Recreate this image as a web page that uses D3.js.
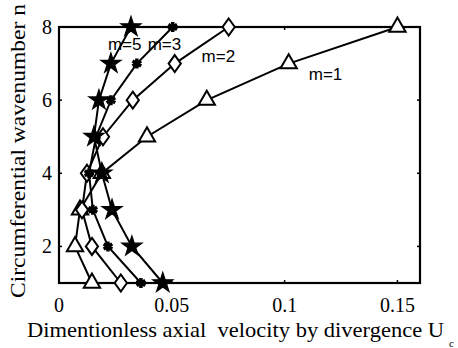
<!DOCTYPE html>
<html>
<head>
<meta charset="utf-8">
<script src="https://cdn.jsdelivr.net/npm/d3@7"></script>
<style>
  body { margin: 0; background: #fff; }
  svg { display: block; }
</style>
</head>
<body>
<div id="chart"></div>
<script>
// wavenumber n on the y axis
const waveNumbers = [1, 2, 3, 4, 5, 6, 7, 8];
// dimensionless axial velocity by divergence, per mode m
const velM1 = [0.0146, 0.0071, 0.0093, 0.0190, 0.0390, 0.0655, 0.1018, 0.1500];
const velM2 = [0.0274, 0.0146, 0.0102, 0.0124, 0.0195, 0.0327, 0.0513, 0.0752];
const velM3 = [0.0363, 0.0217, 0.0150, 0.0133, 0.0164, 0.0230, 0.0345, 0.0504];
const velM5 = [0.0460, 0.0323, 0.0235, 0.0190, 0.0155, 0.0177, 0.0230, 0.0319];
const xTicks = [0, 0.05, 0.1, 0.15];
const yTicks = [2, 4, 6, 8];

const width = 458, height = 348;
const margin = {top: 27, right: 38, bottom: 65, left: 59};
const serif = "'Liberation Serif', 'Times New Roman', serif";

const svg = d3.select("#chart").append("svg")
  .attr("width", width)
  .attr("height", height);

const x = d3.scaleLinear().domain([0, 0.16]).range([margin.left, width - margin.right]);
const y = d3.scaleLinear().domain([1, 8]).range([height - margin.bottom, margin.top]);

// tall diamond like matlab's 'd' marker
const tallDiamond = {
  draw(ctx, size) {
    const h = Math.sqrt(size) * 0.85, w = h * 0.72;
    ctx.moveTo(0, -h); ctx.lineTo(w, 0); ctx.lineTo(0, h); ctx.lineTo(-w, 0); ctx.closePath();
  }
};

const series = [
  {vals: velM1, type: d3.symbolTriangle, size: 115, fill: "#fff", sw: 2},
  {vals: velM2, type: tallDiamond, size: 100, fill: "#fff", sw: 2},
  {vals: velM3, type: d3.symbolAsterisk, size: 70, fill: "none", sw: 3.5},
  {vals: velM5, type: d3.symbolStar, size: 125, fill: "#000", sw: 1.2}
];

const labels = [
  {text: "m=5", n: 7.37, v: 0.0217},
  {text: "m=3", n: 7.37, v: 0.0393},
  {text: "m=2", n: 7.04, v: 0.0632},
  {text: "m=1", n: 6.55, v: 0.1107}
];

// box
svg.append("rect")
  .attr("x", margin.left).attr("y", margin.top)
  .attr("width", x(0.16) - x(0)).attr("height", y(1) - y(8))
  .attr("fill", "none").attr("stroke", "#000").attr("stroke-width", 2.2);

// inward ticks on all four sides
const tl = 3;
svg.append("g").selectAll("line").data(xTicks).join("line")
  .attr("x1", d => x(d)).attr("x2", d => x(d))
  .attr("y1", y(1)).attr("y2", y(1) - tl)
  .attr("stroke", "#000").attr("stroke-width", 1.5);
svg.append("g").selectAll("line").data(xTicks).join("line")
  .attr("x1", d => x(d)).attr("x2", d => x(d))
  .attr("y1", y(8)).attr("y2", y(8) + tl)
  .attr("stroke", "#000").attr("stroke-width", 1.5);
svg.append("g").selectAll("line").data(yTicks).join("line")
  .attr("x1", x(0)).attr("x2", x(0) + tl)
  .attr("y1", d => y(d)).attr("y2", d => y(d))
  .attr("stroke", "#000").attr("stroke-width", 1.5);
svg.append("g").selectAll("line").data(yTicks).join("line")
  .attr("x1", x(0.16)).attr("x2", x(0.16) - tl)
  .attr("y1", d => y(d)).attr("y2", d => y(d))
  .attr("stroke", "#000").attr("stroke-width", 1.5);

// tick labels
svg.append("g").selectAll("text").data(xTicks).join("text")
  .attr("x", d => x(d)).attr("y", y(1) + 29)
  .attr("text-anchor", "middle")
  .style("font-family", serif)
  .attr("font-size", 20)
  .text(d => d === 0 ? "0" : String(d));
svg.append("g").selectAll("text").data(yTicks).join("text")
  .attr("x", x(0) - 7).attr("y", d => y(d) + 7)
  .attr("text-anchor", "end")
  .style("font-family", serif)
  .attr("font-size", 20)
  .text(d => d);

// lines and markers
const line = d3.line().x(d => x(d[1])).y(d => y(d[0]));
series.forEach(s => {
  const pts = waveNumbers.map((n, i) => [n, s.vals[i]]);
  svg.append("path")
    .datum(pts)
    .attr("d", line)
    .attr("fill", "none")
    .attr("stroke", "#000")
    .attr("stroke-width", 2);
  svg.append("g").selectAll("path").data(pts).join("path")
    .attr("transform", d => `translate(${x(d[1])},${y(d[0])})`)
    .attr("d", d3.symbol().type(s.type).size(s.size))
    .attr("fill", s.fill)
    .attr("stroke", "#000")
    .attr("stroke-width", s.sw);
});

// curve labels
svg.append("g").selectAll("text").data(labels).join("text")
  .attr("x", d => x(d.v)).attr("y", d => y(d.n))
  .style("font-family", "'Liberation Sans', Arial, sans-serif")
  .attr("font-size", 17)
  .text(d => d.text);

// axis titles
svg.append("text")
  .attr("x", 27).attr("y", 337)
  .style("font-family", serif)
  .attr("font-size", 21)
  .attr("textLength", 417)
  .attr("lengthAdjust", "spacingAndGlyphs")
  .text("Dimentionless axial\u00a0 velocity by divergence U");
svg.append("text")
  .attr("x", 449).attr("y", 347)
  .style("font-family", serif)
  .attr("font-size", 11)
  .text("c");

svg.append("text")
  .attr("transform", "translate(25,298) rotate(-90)")
  .style("font-family", serif)
  .attr("font-size", 21)
  .attr("textLength", 294)
  .attr("lengthAdjust", "spacingAndGlyphs")
  .text("Circumferential wavenumber n");
</script>
</body>
</html>
